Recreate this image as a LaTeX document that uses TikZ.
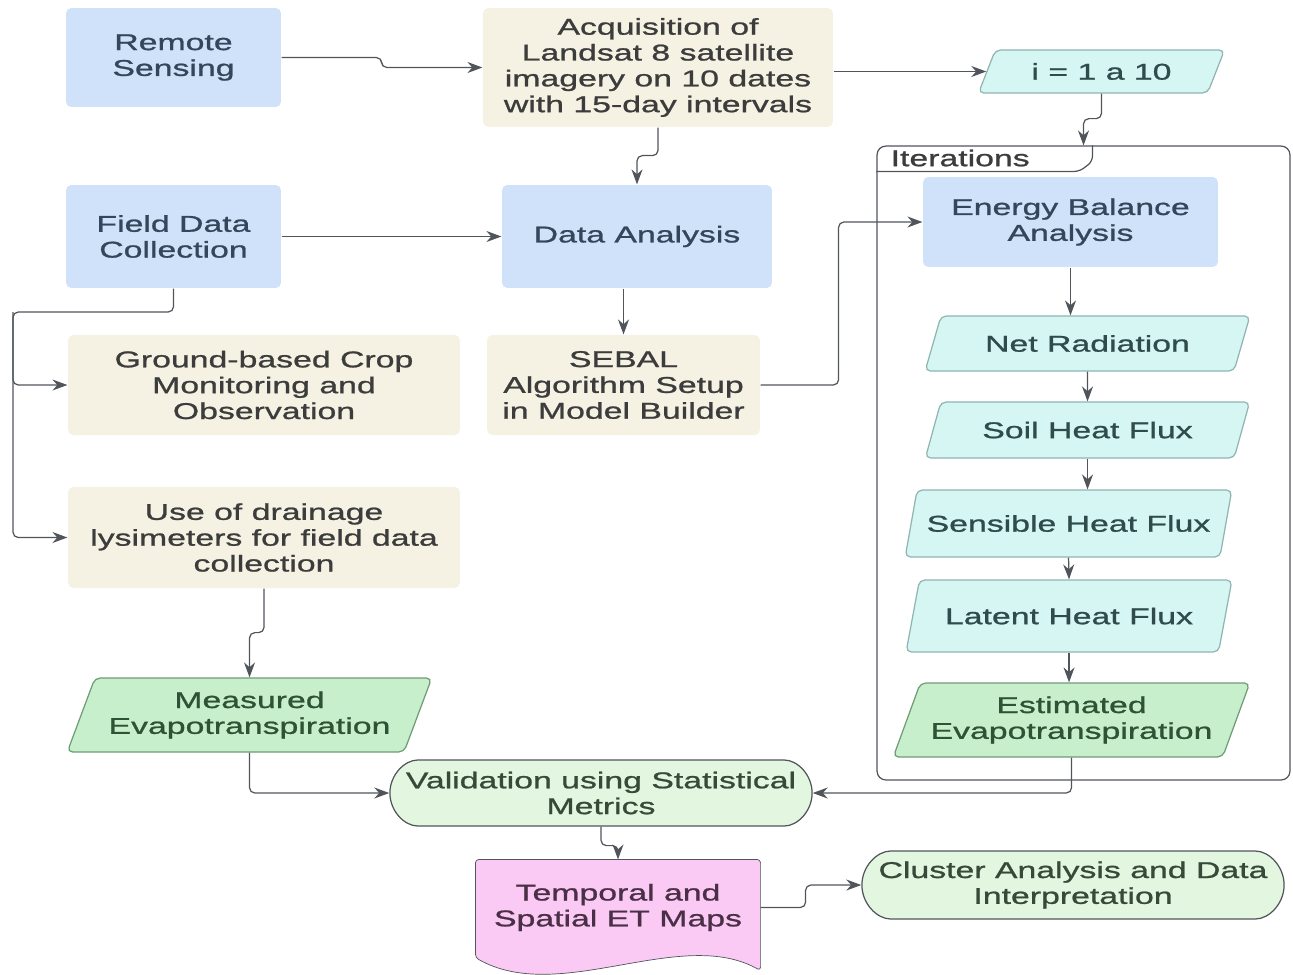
\documentclass[tikz,border=0pt]{standalone}
\usepackage{fontspec}
\setmainfont{Liberation Sans}[FakeStretch=1.48,FakeBold=1]
\usetikzlibrary{arrows.meta,shapes.geometric,shapes.misc,calc,backgrounds}

\definecolor{linegray}{HTML}{50555B}
\definecolor{bluefill}{HTML}{CFE2FA}
\definecolor{bluetext}{HTML}{34465A}
\definecolor{sandfill}{HTML}{F5F1E3}
\definecolor{sandtext}{HTML}{3C3C3C}
\definecolor{cyanfill}{HTML}{D6F6F3}
\definecolor{cyanline}{HTML}{8FB5B2}
\definecolor{cyantext}{HTML}{2F4B4B}
\definecolor{greenfill}{HTML}{C8EFCB}
\definecolor{greenline}{HTML}{6E9C74}
\definecolor{greentext}{HTML}{2E5236}
\definecolor{termfill}{HTML}{E3F6DF}
\definecolor{termtext}{HTML}{354A38}
\definecolor{pinkfill}{HTML}{FAC9F4}
\definecolor{pinktext}{HTML}{4A3046}

\begin{document}
\begin{tikzpicture}[
	x=0.02cm, y=-0.02cm,
	>={Stealth[length=3mm,width=2.2mm]},
	->,
	line width=0.7pt,
	draw=linegray,
	rounded corners=3pt,
	font=\fontsize{13}{14.7}\selectfont,
	blue box/.style={rectangle,fill=bluefill,text=bluetext,align=center},
	sand box/.style={rectangle,fill=sandfill,text=sandtext,align=center},
	io node/.style={trapezium,trapezium left angle=65,trapezium right angle=115,
		trapezium stretches=true,inner xsep=0pt,inner ysep=2pt,
		fill=cyanfill,draw=cyanline,text=cyantext,align=center},
	et node/.style={io node,fill=greenfill,draw=greenline,text=greentext},
	term node/.style={rounded rectangle,fill=termfill,draw=linegray,text=termtext,align=center},
	doc node/.style={rectangle,text=pinktext,align=center},
	frame node/.style={rectangle,draw=linegray,rounded corners=5pt}
]

\useasboundingbox (0,0) rectangle (1293,974);

% loop frame
\node[frame node,minimum width=8.26cm,minimum height=12.68cm] (loop) at (1083.5,463) {};
\draw[-] (loop.north west) ++(0,26) -- ++(203,0) -- ++(13,-10) -- ++(0,-16);
\node[anchor=west,inner sep=0pt,text=sandtext] (looplabel) at (890,158) {Iterations};

% left column
\node[blue box,minimum width=4.3cm,minimum height=1.98cm] (remote) at (173.5,57.5) {Remote\\Sensing};
\node[blue box,minimum width=4.3cm,minimum height=2.06cm] (field) at (173.5,236.5) {Field Data\\Collection};
\node[sand box,minimum width=7.84cm,minimum height=2.0cm] (ground) at (264,385) {Ground-based Crop\\Monitoring and\\Observation};
\node[sand box,minimum width=7.84cm,minimum height=2.02cm] (drain) at (264,537.5) {Use of drainage\\lysimeters for field data\\collection};
\node[et node,minimum width=7.3cm,minimum height=1.48cm] (measured) at (249.5,715) {Measured\\Evapotranspiration};

% middle column
\node[sand box,minimum width=7cm,minimum height=2.38cm] (acq) at (658,67.5) {Acquisition of\\Landsat 8 satellite\\imagery on 10 dates\\with 15-day intervals};
\node[blue box,minimum width=5.4cm,minimum height=2.06cm] (analysis) at (637,236.5) {Data Analysis};
\node[sand box,minimum width=5.46cm,minimum height=2.0cm] (sebal) at (623.5,385) {SEBAL\\Algorithm Setup\\in Model Builder};
\node[term node,minimum width=8.68cm,minimum height=1.32cm] (validation) at (601,793) {Validation using Statistical\\Metrics};
\node[doc node,minimum width=5.68cm,minimum height=1.9cm] (maps) at (618,907.5) {Temporal and\\Spatial ET Maps};
\node[term node,minimum width=8.68cm,minimum height=1.36cm] (cluster) at (1073,885) {Cluster Analysis and Data\\Interpretation};

% right column
\node[io node,minimum width=4.94cm,minimum height=0.86cm] (iter) at (1101.5,71.5) {i = 1 a 10};
\node[blue box,minimum width=5.9cm,minimum height=1.8cm] (energy) at (1070.5,222) {Energy Balance\\Analysis};
\node[io node,minimum width=6.5cm,minimum height=1.1cm] (net) at (1087.5,343.5) {Net Radiation};
\node[io node,minimum width=6.5cm,minimum height=1.12cm] (soil) at (1087.5,430) {Soil Heat Flux};
\node[io node,minimum width=6.54cm,minimum height=1.34cm] (sensible) at (1068.5,523.5) {Sensible Heat Flux};
\node[io node,minimum width=6.52cm,minimum height=1.44cm] (latent) at (1069,616) {Latent Heat Flux};
\node[et node,minimum width=7.14cm,minimum height=1.48cm] (estimated) at (1071.5,720) {Estimated\\Evapotranspiration};

% document outline of the maps node
\begin{scope}[on background layer]
\filldraw[-,fill=pinkfill,draw=linegray,rounded corners=2pt] (maps.north west) -- (maps.north east)
	-- ($(maps.south east)+(0,15)$)
	.. controls ($(maps.south east)+(-80,-30)$) and ($(maps.south west)+(84,50)$) .. ($(maps.south west)+(0,2)$)
	-- cycle;
\end{scope}

\coordinate (bus) at (13,312);

\draw (remote.east) -- ++(100,0) |- (acq.west);
\draw (acq.east |- iter.west) -- (iter.west);
\draw (acq.south) -- ++(0,28) -| (analysis.north);
\draw (iter.south) -- ++(0,25) -| (loop.north);
\draw (field) -- (analysis);
\draw (field.south) |- (bus) |- (ground.west);
\draw (bus) |- (drain.west);
\draw (analysis.south -| sebal.north) -- (sebal.north);
\draw (sebal.east) -- ++(78,0) |- (energy.west);
\draw (energy.south) -- (energy.south |- net.north);
\draw (net.south) -- (soil.north);
\draw (soil.south) -- (soil.south |- sensible.north);
\draw (sensible.south) -- (latent.north);
\draw (latent.south) -- (latent.south |- estimated.north);
\draw (estimated.south) |- (validation.east);
\draw (drain.south) -- ++(0,44) -| (measured.north);
\draw (measured.south) |- (validation.west);
\draw (validation.south) -- ++(0,19) -| (maps.north);
\draw (maps.east) -- ++(45,0) |- (cluster.west);
\end{tikzpicture}
\end{document}
